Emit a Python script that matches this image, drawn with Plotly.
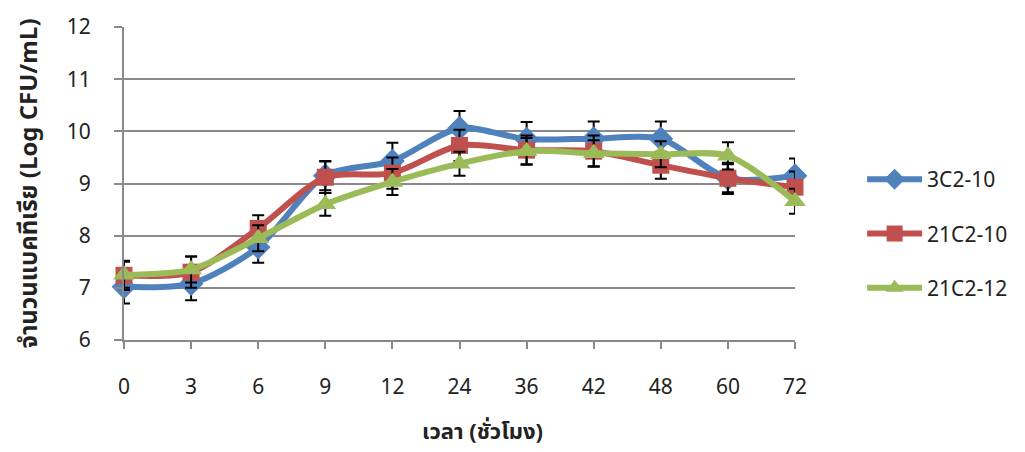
import plotly.graph_objects as go

hours = ["0", "3", "6", "9", "12", "24", "36", "42", "48", "60", "72"]

s1_name = "3C2-10"
s1_vals = [7.02, 7.08, 7.78, 9.15, 9.43, 10.06, 9.85, 9.86, 9.86, 9.1, 9.15]
s1_err = [0.32, 0.32, 0.3, 0.28, 0.35, 0.33, 0.33, 0.33, 0.33, 0.3, 0.33]

s2_name = "21C2-10"
s2_vals = [7.24, 7.3, 8.14, 9.12, 9.2, 9.73, 9.64, 9.62, 9.35, 9.1, 8.93]
s2_err = [0.28, 0.3, 0.25, 0.3, 0.3, 0.3, 0.28, 0.3, 0.26, 0.27, 0.3]

s3_name = "21C2-12"
s3_vals = [7.25, 7.35, 7.95, 8.6, 9.03, 9.38, 9.62, 9.58, 9.56, 9.53, 8.66]
s3_err = [0.25, 0.25, 0.25, 0.22, 0.25, 0.23, 0.25, 0.25, 0.25, 0.26, 0.24]

y_title = "จำนวนแบคทีเรีย (Log CFU/mL)"
x_title = "เวลา (ชั่วโมง)"

FONT = "Leelawadee UI, Tahoma, Noto Sans Thai, Noto Sans, Open Sans, sans-serif"
GRID = "#8a8a8a"

series = [
    (s1_name, s1_vals, s1_err, "#4F81BD", "diamond", 19),
    (s2_name, s2_vals, s2_err, "#C0504D", "square", 17),
    (s3_name, s3_vals, s3_err, "#9BBB59", "triangle-up", 19),
]

fig = go.Figure()
for i, (name, vals, err, color, sym, size) in enumerate(series):
    fig.add_trace(go.Scatter(
        x=hours, y=vals, name=name, mode="lines+markers",
        line=dict(color=color, width=6, shape="spline", smoothing=0.8),
        marker=dict(symbol=sym, size=size, color=color),
        error_y=dict(type="data", array=err, visible=True, color="black",
                     thickness=2, width=6),
        cliponaxis=False,
        legendgroup=str(i),
    ))

fig.update_layout(
    width=1025, height=452,
    margin=dict(l=124, r=228, t=21, b=112),
    paper_bgcolor="white", plot_bgcolor="white",
    font=dict(family=FONT, size=21, color="#222222"),
    showlegend=True,
    legend=dict(x=1.10, xanchor="left", y=0.34, yanchor="middle",
                tracegroupgap=24, font=dict(size=21, color="#222222"),
                itemwidth=55, bgcolor="rgba(0,0,0,0)"),
    xaxis=dict(
        type="category", range=[0, 10],
        showgrid=False, showline=True, linecolor=GRID, linewidth=2,
        ticks="outside", ticklen=7, tickcolor=GRID, tickwidth=2,
        ticklabelstandoff=20,
        tickfont=dict(size=21, color="#222222"),
        zeroline=False,
    ),
    yaxis=dict(
        range=[6, 12], dtick=1, tick0=6,
        showgrid=True, gridcolor=GRID, gridwidth=1.5,
        showline=True, linecolor=GRID, linewidth=2,
        ticks="outside", ticklen=8, tickcolor=GRID, tickwidth=2,
        ticklabelstandoff=19,
        tickfont=dict(size=21, color="#222222"),
        zeroline=False,
        title=dict(text="<b>" + y_title + "</b>", standoff=22,
                   font=dict(size=24, color="#222222")),
    ),
)

fig.add_annotation(
    text="<b>" + x_title + "</b>", xref="paper", yref="paper",
    x=0.535, y=-0.295, xanchor="center", yanchor="middle",
    showarrow=False, font=dict(size=22, color="#222222", family=FONT),
)

fig.write_html("out.html")
